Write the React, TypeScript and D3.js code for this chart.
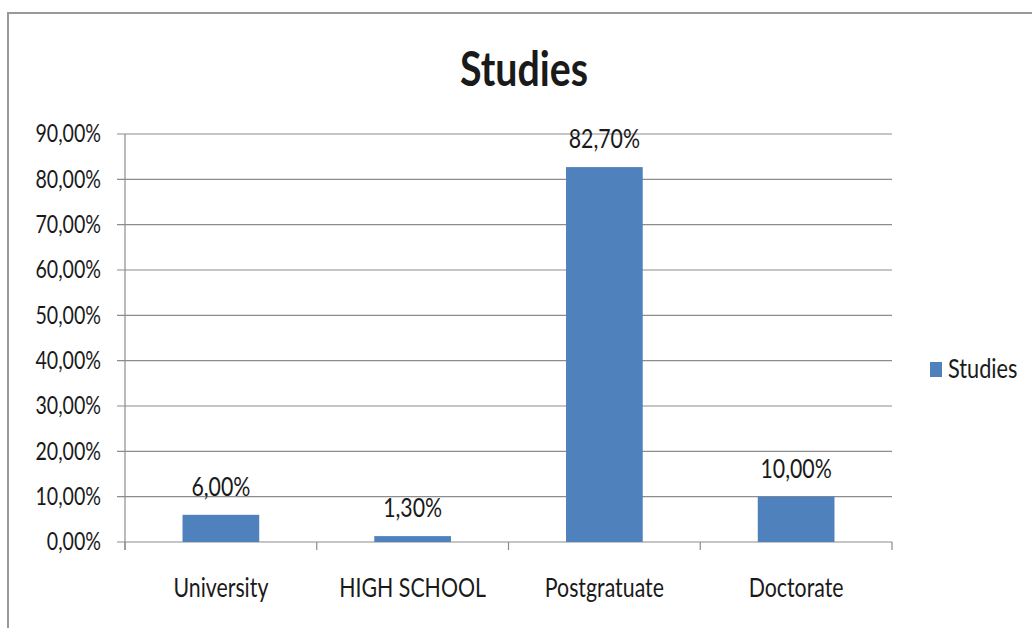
import React from "react";
import * as d3 from "d3";

const categories = ["University", "HIGH SCHOOL", "Postgratuate", "Doctorate"];
const values = [6.0, 1.3, 82.7, 10.0];
const yTicks = [0, 10, 20, 30, 40, 50, 60, 70, 80, 90];
const seriesName = "Studies";
const chartTitle = "Studies";

const W = 1032;
const H = 628;
const plot = { left: 125, right: 892, top: 134, bottom: 542 };
const FONT = "Lato, 'Open Sans', sans-serif";
const BAR = "#4F81BD";
const GRID = "#8c8c8c";

const fmt = (v: number) => v.toFixed(2).replace(".", ",") + "%";

// Narrowed text helper: scales glyphs horizontally about the anchor point.
function NText({ x, y, size, sx = 0.82, anchor = "middle", weight = 400, children }: any) {
  return (
    <text
      transform={`translate(${x},${y}) scale(${sx},1)`}
      textAnchor={anchor}
      dominantBaseline="central"
      fontFamily={FONT}
      fontSize={size}
      fontWeight={weight}
      fill="#1a1a1a"
    >
      {children}
    </text>
  );
}

export default function App() {
  const x = d3
    .scaleBand<string>()
    .domain(categories)
    .range([plot.left, plot.right])
    .paddingInner(0.6)
    .paddingOuter(0.3);
  const y = d3.scaleLinear().domain([0, 90]).range([plot.bottom, plot.top]);
  const step = x.step();
  const boundaries = d3.range(categories.length + 1).map((i) => plot.left + i * step);

  return (
    <svg width={W} height={H} style={{ position: "absolute", left: 0, top: 0 }}>
      <rect x={0} y={0} width={W} height={H} fill="#fff" />
      {/* chart frame */}
      <line x1={8} x2={W} y1={13} y2={13} stroke="#999" strokeWidth={2} />
      <line x1={8} x2={8} y1={12} y2={H} stroke="#999" strokeWidth={2} />

      <NText x={524} y={67} size={48} sx={0.82} weight={700}>
        {chartTitle}
      </NText>

      {/* gridlines and y ticks */}
      {yTicks.map((t) => (
        <g key={t}>
          <line x1={plot.left - 8} x2={plot.right} y1={y(t)} y2={y(t)} stroke={GRID} strokeWidth={1.2} />
          <NText x={101} y={y(t) - 1} size={24.5} sx={0.8} anchor="end">
            {fmt(t)}
          </NText>
        </g>
      ))}
      <line x1={plot.left} x2={plot.left} y1={plot.top} y2={plot.bottom + 8} stroke={GRID} strokeWidth={1.2} />
      {boundaries.map((bx, i) => (
        <line key={i} x1={bx} x2={bx} y1={plot.bottom} y2={plot.bottom + 8} stroke={GRID} strokeWidth={1.2} />
      ))}

      {/* bars with value labels */}
      {categories.map((c, i) => {
        const bx = x(c)!;
        const top = y(values[i]);
        return (
          <g key={c}>
            <rect x={bx} y={top} width={x.bandwidth()} height={plot.bottom - top} fill={BAR} />
            <NText x={bx + x.bandwidth() / 2} y={top - 29} size={26}>
              {fmt(values[i])}
            </NText>
            <NText x={bx + x.bandwidth() / 2} y={587} size={26}>
              {c}
            </NText>
          </g>
        );
      })}

      {/* legend */}
      <rect x={930} y={362} width={12} height={15} fill={BAR} />
      <NText x={948} y={368} size={26.5} anchor="start">
        {seriesName}
      </NText>
    </svg>
  );
}
